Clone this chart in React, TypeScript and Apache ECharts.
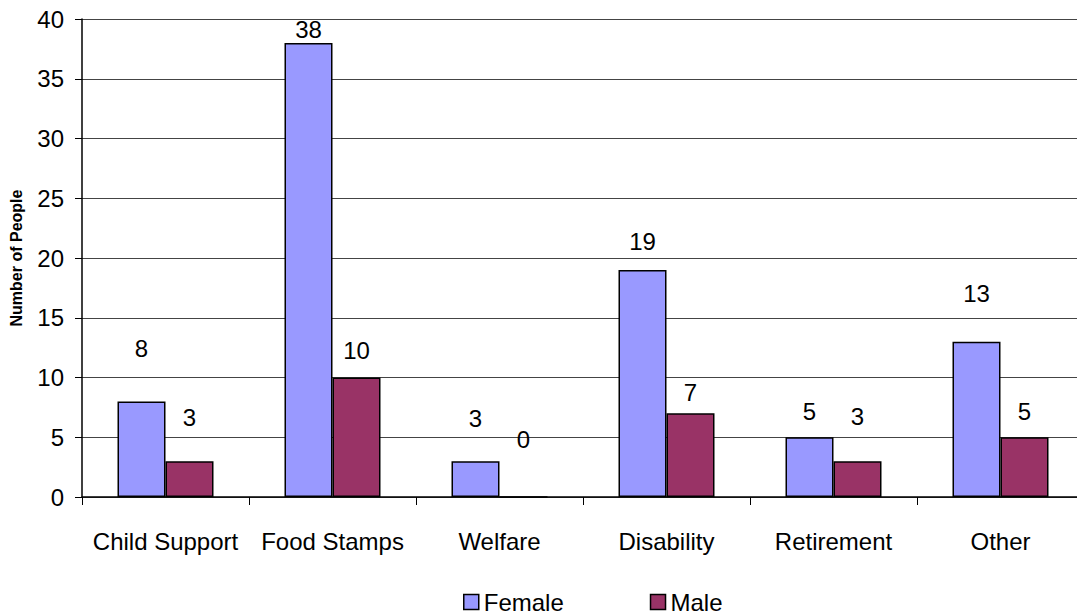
import React, { useEffect, useRef } from "react";
import * as echarts from "echarts";

const categories = ["Child Support", "Food Stamps", "Welfare", "Disability", "Retirement", "Other"];
const femaleValues = [8, 38, 3, 19, 5, 13];
const maleValues = [3, 10, 0, 7, 3, 5];
// vertical nudges (px) of each value label above its bar
const femaleLabelLift = [41, 1, 31, 16, 14, 36];
const maleLabelLift = [32, 15, 45, 9, 33, 14];
const yTicks = { min: 0, max: 40, interval: 5 };

const FONT = "'Liberation Sans', Arial, sans-serif";

function buildSeries(name: string, values: number[], lifts: number[], color: string) {
  return {
    name,
    type: "bar",
    barWidth: 48,
    barGap: "0%",
    itemStyle: { color, borderColor: "#000", borderWidth: 1.5 },
    data: values.map((v, i) => ({
      value: v,
      label: { offset: [0, -lifts[i]] },
    })),
    label: {
      show: true,
      position: "top",
      distance: 0,
      color: "#000",
      fontFamily: FONT,
      fontSize: 24,
      lineHeight: 24,
    },
  };
}

export default function App() {
  const ref = useRef<HTMLDivElement>(null);
  useEffect(() => {
    if (!ref.current) return;
    const chart = echarts.init(ref.current, undefined, { renderer: "svg" });
    chart.setOption({
      animation: false,
      backgroundColor: "#fff",
      textStyle: { fontFamily: FONT },
      grid: {
        left: 82,
        top: 19,
        width: 1002,
        bottom: 119,
        containLabel: false,
        outerBoundsMode: "none",
      },
      legend: {
        left: 463,
        top: 590,
        padding: 0,
        icon: "rect",
        itemWidth: 15,
        itemHeight: 15,
        itemGap: 86,
        textStyle: { fontSize: 24, lineHeight: 24, color: "#000", fontFamily: FONT },
        itemStyle: { borderColor: "#000", borderWidth: 1.5 },
        data: ["Female", "Male"],
      },
      xAxis: {
        type: "category",
        data: categories,
        axisLine: { lineStyle: { color: "#000", width: 1.5 } },
        axisTick: { show: true, interval: 0, length: 8, lineStyle: { color: "#000" } },
        axisLabel: { color: "#000", fontSize: 24, margin: 32, interval: 0, fontFamily: FONT },
      },
      yAxis: {
        type: "value",
        min: yTicks.min,
        max: yTicks.max,
        interval: yTicks.interval,
        name: "Number of People",
        nameLocation: "middle",
        nameRotate: 90,
        nameGap: 58,
        nameTextStyle: { fontSize: 16, fontWeight: "bold", color: "#000", fontFamily: FONT },
        axisLine: { show: true, lineStyle: { color: "#000", width: 1.5 } },
        axisTick: { show: true, length: 7, lineStyle: { color: "#000" } },
        axisLabel: { color: "#000", fontSize: 24, margin: 18, fontFamily: FONT },
        splitLine: { show: true, lineStyle: { color: "#444", width: 1 } },
      },
      series: [
        buildSeries("Female", femaleValues, femaleLabelLift, "#9999FF"),
        buildSeries("Male", maleValues, maleLabelLift, "#993366"),
      ],
    });
    return () => chart.dispose();
  }, []);
  return (
    <div
      ref={ref}
      style={{ position: "absolute", left: 0, top: 0, width: 1077, height: 616, background: "#fff" }}
    />
  );
}
